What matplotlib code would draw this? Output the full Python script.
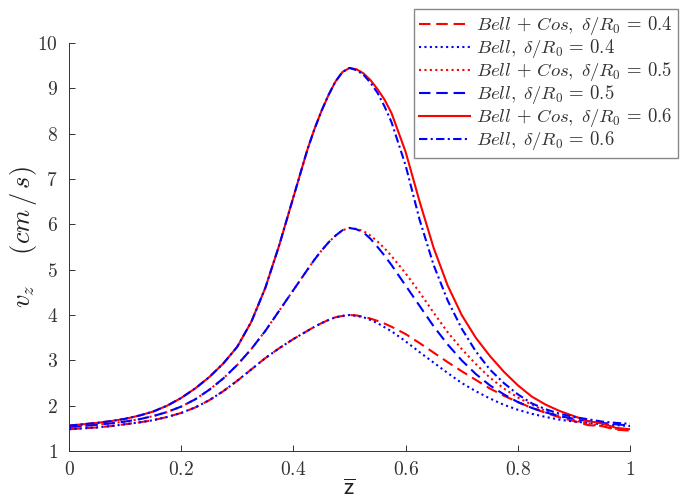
import matplotlib
matplotlib.use("Agg")
import matplotlib.pyplot as plt

plt.rcParams['mathtext.fontset'] = 'cm'
plt.rcParams['font.family'] = ['DejaVu Serif']

# z positions
z = [0.000, 0.025, 0.050, 0.075, 0.100, 0.125, 0.150, 0.175, 0.200, 0.225,
     0.250, 0.275, 0.300, 0.325, 0.350, 0.375, 0.400, 0.425, 0.4375, 0.450,
     0.4625, 0.475, 0.4875, 0.500, 0.5125, 0.525, 0.5375, 0.550, 0.5625,
     0.575, 0.600, 0.625, 0.650, 0.675, 0.700, 0.725, 0.750, 0.775, 0.800,
     0.825, 0.850, 0.875, 0.900, 0.925, 0.950, 0.975, 1.000]

# delta/R0 = 0.4
bellcos_04 = [1.48, 1.50, 1.52, 1.55, 1.59, 1.63, 1.68, 1.75, 1.84, 1.96,
              2.12, 2.32, 2.55, 2.80, 3.05, 3.27, 3.47, 3.65, 3.74, 3.82,
              3.89, 3.95, 3.98, 4.00, 3.99, 3.96, 3.92, 3.87, 3.81,
              3.74, 3.58, 3.38, 3.17, 2.96, 2.76, 2.57, 2.38, 2.22, 2.08,
              1.95, 1.84, 1.74, 1.66, 1.57, 1.55, 1.47, 1.45]
bell_04 = [1.48, 1.50, 1.52, 1.55, 1.59, 1.63, 1.68, 1.75, 1.84, 1.96,
           2.12, 2.32, 2.55, 2.80, 3.05, 3.27, 3.47, 3.65, 3.74, 3.82,
           3.89, 3.95, 3.98, 4.00, 3.98, 3.95, 3.89, 3.82, 3.73,
           3.64, 3.42, 3.18, 2.95, 2.72, 2.50, 2.32, 2.16, 2.02, 1.91,
           1.82, 1.75, 1.69, 1.65, 1.62, 1.59, 1.57, 1.55]

# delta/R0 = 0.5
bellcos_05 = [1.53, 1.55, 1.58, 1.61, 1.65, 1.70, 1.77, 1.86, 1.98, 2.14,
              2.35, 2.60, 2.90, 3.25, 3.65, 4.10, 4.55, 5.00, 5.22, 5.42,
              5.60, 5.75, 5.87, 5.92, 5.90, 5.85, 5.75, 5.62, 5.47,
              5.30, 4.92, 4.50, 4.05, 3.62, 3.25, 2.92, 2.62, 2.38, 2.18,
              2.02, 1.88, 1.77, 1.68, 1.60, 1.55, 1.49, 1.47]
bell_05 = [1.53, 1.55, 1.58, 1.61, 1.65, 1.70, 1.77, 1.86, 1.98, 2.14,
           2.35, 2.60, 2.90, 3.25, 3.65, 4.10, 4.55, 5.00, 5.22, 5.42,
           5.60, 5.75, 5.87, 5.92, 5.89, 5.82, 5.68, 5.50, 5.31,
           5.10, 4.65, 4.20, 3.75, 3.35, 3.00, 2.70, 2.45, 2.25, 2.08,
           1.95, 1.85, 1.77, 1.71, 1.66, 1.62, 1.59, 1.56]

# delta/R0 = 0.6
bellcos_06 = [1.56, 1.59, 1.62, 1.66, 1.71, 1.78, 1.87, 2.00, 2.17, 2.38,
              2.63, 2.93, 3.30, 3.85, 4.60, 5.55, 6.60, 7.65, 8.10, 8.50,
              8.85, 9.15, 9.36, 9.45, 9.42, 9.33, 9.18, 8.98, 8.75,
              8.45, 7.60, 6.50, 5.48, 4.65, 4.00, 3.50, 3.10, 2.75, 2.45,
              2.20, 2.02, 1.88, 1.77, 1.66, 1.61, 1.51, 1.48]
bell_06 = [1.56, 1.59, 1.62, 1.66, 1.71, 1.78, 1.87, 2.00, 2.17, 2.38,
           2.63, 2.93, 3.30, 3.85, 4.60, 5.55, 6.60, 7.65, 8.10, 8.50,
           8.85, 9.15, 9.36, 9.45, 9.40, 9.30, 9.12, 8.90, 8.60,
           8.25, 7.30, 6.10, 5.10, 4.32, 3.70, 3.20, 2.80, 2.50, 2.25,
           2.05, 1.92, 1.82, 1.75, 1.70, 1.65, 1.62, 1.60]

legend_labels = [r'$Bell\,+\,Cos,\;\delta/R_0\,=\,0.4$',
                 r'$Bell,\;\delta/R_0\,=\,0.4$',
                 r'$Bell\,+\,Cos,\;\delta/R_0\,=\,0.5$',
                 r'$Bell,\;\delta/R_0\,=\,0.5$',
                 r'$Bell\,+\,Cos,\;\delta/R_0\,=\,0.6$',
                 r'$Bell,\;\delta/R_0\,=\,0.6$']

xticks = [0, 0.2, 0.4, 0.6, 0.8, 1.0]
xtick_labels = ['0', '0.2', '0.4', '0.6', '0.8', '1']
yticks = [1, 2, 3, 4, 5, 6, 7, 8, 9, 10]

RED = '#ff0000'
BLUE = '#0000ff'
LW = 1.5
dashed = (0, (5.5, 2.8))
dotted = (0, (1.0, 1.6))
dashdot = (0, (4.0, 1.6, 1.0, 1.6))

fig = plt.figure(figsize=(6.85, 5.01), dpi=100)
ax = fig.add_axes([69 / 685, 50 / 501, 561 / 685, 408 / 501])

series = [
    (bellcos_04, RED, dashed),
    (bell_04, BLUE, dotted),
    (bellcos_05, RED, dotted),
    (bell_05, BLUE, dashed),
    (bellcos_06, RED, '-'),
    (bell_06, BLUE, dashdot),
]
for (vals, col, ls), lab in zip(series, legend_labels):
    ax.plot(z, vals, color=col, linestyle=ls, linewidth=LW, label=lab)

ax.set_xlim(0, 1)
ax.set_ylim(1, 10)
ax.set_xticks(xticks)
ax.set_xticklabels(['$' + t + '$' for t in xtick_labels])
ax.set_yticks(yticks)
ax.set_yticklabels(['$%d$' % t for t in yticks])

for s in ['top', 'right']:
    ax.spines[s].set_visible(False)
for s in ['left', 'bottom']:
    ax.spines[s].set_color('#333333')
    ax.spines[s].set_linewidth(0.7)
ax.tick_params(direction='in', length=4, width=0.7, colors='#333333',
               labelsize=14, labelcolor='#333333')
ax.tick_params(axis='x', pad=7)
ax.tick_params(axis='y', pad=8)

ax.set_xlabel(r'$\overline{\mathsf{z}}$', fontsize=17, color='#222222')
ax.xaxis.set_label_coords(0.5, -0.065)
ax.set_ylabel(r'$v_z\quad\ (cm\,/\,s)$', fontsize=19, color='#222222')
ax.yaxis.set_label_coords(-0.053, 0.525)

leg = ax.legend(loc='upper right', bbox_to_anchor=(678 / 685, 1 - 9 / 501),
                bbox_transform=fig.transFigure, borderaxespad=0,
                fontsize=13.5, handlelength=2.75, handletextpad=0.3,
                labelspacing=0.0, borderpad=0.28, fancybox=False,
                framealpha=1, edgecolor='#888888')
leg.get_frame().set_linewidth(1.0)
for t in leg.get_texts():
    t.set_color('#333333')

fig.savefig('out.png', dpi=100)
